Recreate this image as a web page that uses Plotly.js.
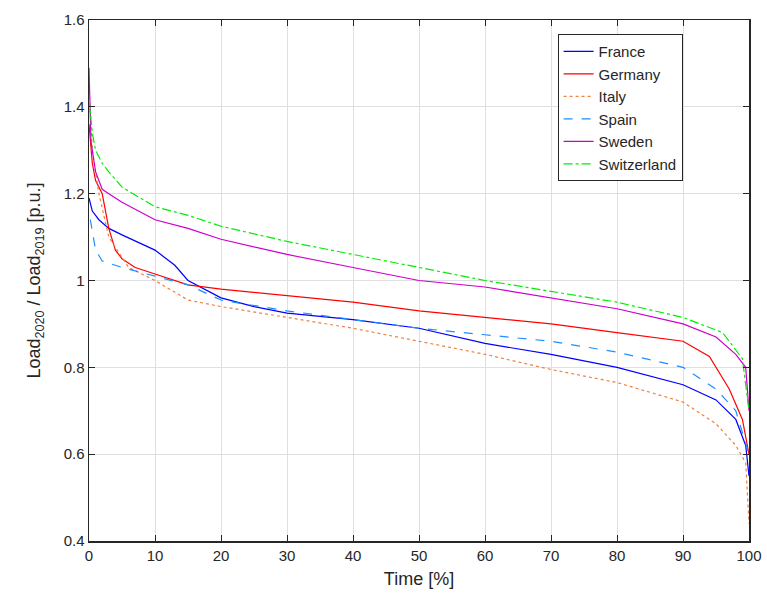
<!DOCTYPE html>
<html>
<head>
<script src="https://cdn.plot.ly/plotly-3.0.1.min.js"></script>
<style>body{margin:0}#chart{width:767px;height:600px}</style>
</head>
<body>
<div id="chart"></div>
<script>
const franceX = [0, 0.5, 1.5, 3, 5, 8, 10, 13, 15, 20, 25, 30, 40, 50, 60, 70, 80, 90, 95, 98, 99.5, 100];
const franceY = [1.19, 1.16, 1.14, 1.12, 1.105, 1.085, 1.07, 1.035, 1.0, 0.96, 0.94, 0.925, 0.91, 0.89, 0.855, 0.83, 0.80, 0.76, 0.725, 0.68, 0.62, 0.55];
const germanyX = [0, 0.5, 1, 2, 3, 4, 5, 7, 10, 15, 20, 30, 40, 50, 60, 70, 80, 90, 94, 97, 99, 100];
const germanyY = [1.36, 1.27, 1.23, 1.2, 1.12, 1.07, 1.05, 1.03, 1.015, 0.99, 0.98, 0.965, 0.95, 0.93, 0.915, 0.9, 0.88, 0.86, 0.825, 0.75, 0.68, 0.6];
const italyX = [0, 0.5, 1.5, 3, 6, 10, 15, 20, 30, 40, 50, 60, 70, 80, 90, 95, 98, 99.5, 100];
const italyY = [1.45, 1.3, 1.2, 1.1, 1.03, 1.0, 0.955, 0.94, 0.915, 0.89, 0.86, 0.83, 0.795, 0.765, 0.72, 0.67, 0.62, 0.58, 0.44];
const spainX = [0.2, 1, 2, 5, 10, 15, 20, 30, 40, 50, 60, 70, 80, 90, 95, 98, 100];
const spainY = [1.14, 1.07, 1.045, 1.03, 1.01, 0.99, 0.955, 0.93, 0.91, 0.89, 0.875, 0.86, 0.835, 0.8, 0.75, 0.7, 0.6];
const swedenX = [0, 0.3, 1, 2, 3, 5, 10, 15, 20, 30, 40, 50, 60, 70, 80, 90, 95, 98, 99.5, 100];
const swedenY = [1.49, 1.32, 1.25, 1.21, 1.2, 1.18, 1.14, 1.12, 1.095, 1.06, 1.03, 1.0, 0.985, 0.96, 0.935, 0.9, 0.87, 0.83, 0.8, 0.7];
const swissX = [0, 0.5, 1, 2, 3, 5, 10, 15, 20, 30, 40, 50, 60, 70, 80, 90, 96, 99, 100];
const swissY = [1.42, 1.34, 1.3, 1.27, 1.25, 1.215, 1.17, 1.15, 1.125, 1.09, 1.06, 1.03, 1.0, 0.975, 0.95, 0.915, 0.88, 0.82, 0.7];

function tr(name, x, y, color, dash) {
  return { x, y, name, type: "scatter", mode: "lines",
    line: { color, width: 1.2, dash } };
}
const traces = [
  tr("France", franceX, franceY, "#0000ff", "solid"),
  tr("Germany", germanyX, germanyY, "#ff0000", "solid"),
  tr("Italy", italyX, italyY, "#f08040", "dot"),
  tr("Spain", spainX, spainY, "#1e8fff", "dash"),
  tr("Sweden", swedenX, swedenY, "#cc00cc", "solid"),
  tr("Switzerland", swissX, swissY, "#00ee00", "dashdot")
];
const axisStyle = {
  showline: true, mirror: "ticks", linecolor: "#262626", linewidth: 1.5,
  ticks: "inside", ticklen: 6, tickcolor: "#262626",
  gridcolor: "#dfdfdf", zeroline: false,
  tickfont: { size: 15, color: "#262626" }
};
Plotly.newPlot("chart", traces, {
  width: 767, height: 600,
  margin: { l: 89, r: 18, t: 20, b: 59 },
  paper_bgcolor: "white", plot_bgcolor: "white",
  font: { family: "Liberation Sans, Arial", color: "#262626" },
  xaxis: Object.assign({}, axisStyle, { range: [0, 100], dtick: 10,
    title: { text: "Time [%]", font: { size: 18 }, standoff: 10 } }),
  yaxis: Object.assign({}, axisStyle, { range: [0.4, 1.6], dtick: 0.2,
    title: { text: "Load<sub>2020</sub> / Load<sub>2019</sub> [p.u.]", font: { size: 18 }, standoff: 18 } }),
  legend: { x: 0.71, y: 0.973, xanchor: "left", yanchor: "top",
    bordercolor: "#262626", borderwidth: 1, bgcolor: "white",
    font: { size: 15 }, tracegroupgap: 0 },
  showlegend: true
}, { staticPlot: true });
</script>
</body>
</html>
